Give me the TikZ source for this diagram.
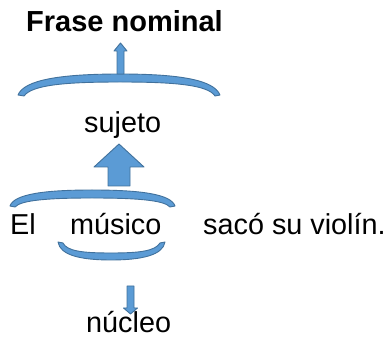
\documentclass[tikz,border=0pt]{standalone}
\usepackage{fontspec}
\setmainfont{Liberation Sans}
\definecolor{bfill}{HTML}{5B9BD5}
\definecolor{bline}{HTML}{41719C}
\begin{document}
\begin{tikzpicture}[x=1pt,y=-1pt,
  lbl/.style={anchor=base west,inner sep=0pt,font=\fontsize{28.8}{32}\selectfont},
  shp/.style={fill=bfill,draw=bline,line width=0.9pt,line join=round}]
\useasboundingbox (0,0) rectangle (389,339);
% texts
\node[lbl,font=\fontsize{29}{32}\selectfont\bfseries] (frase) at (26,32) {Frase nominal};
\node[lbl] (sujeto) at (84,133) {sujeto};
\node[lbl] (el) at (10,235) {El};
\node[lbl] (musico) at (70,235) {músico};
\node[lbl] (saco) at (203,235) {sacó su violín.};
\node[lbl] (nucleo) at (86,333) {núcleo};
% top brace
\draw[shp] (18,95) .. controls (24,80) and (60,74) .. (120,74)
  .. controls (180,74) and (214,80) .. (220,95) -- (215,96)
  .. controls (208,85) and (175,82) .. (120,82)
  .. controls (65,82) and (32,85) .. (24,96) -- cycle;
% thin up arrow
\draw[shp] (117,74) -- (117,51) -- (114,51) -- (120.5,43) -- (127,51) -- (124,51) -- (124,74) -- cycle;
% big up arrow
\draw[shp] (108,186) -- (108,167) -- (94,167) -- (119,144) -- (144,167) -- (130,167) -- (130,186) -- cycle;
% middle brace
\draw[shp] (10,206) .. controls (14,194) and (45,190) .. (92,190)
  .. controls (140,190) and (171,194) .. (175,206) -- (170,207)
  .. controls (164,200) and (135,198) .. (92,198)
  .. controls (50,198) and (21,200) .. (15,207) -- cycle;
% lower brace
\draw[shp] (58,242) .. controls (60,255) and (80,260) .. (111,260)
  .. controls (142,260) and (163,255) .. (165,242) -- (160,243)
  .. controls (155,251) and (140,253) .. (111,253)
  .. controls (82,253) and (67,251) .. (63,243) -- cycle;
% thin down arrow
\draw[shp] (127,286) -- (127,308) -- (123.5,308) -- (130.5,314) -- (137.5,308) -- (134,308) -- (134,286) -- cycle;
\end{tikzpicture}
\end{document}
